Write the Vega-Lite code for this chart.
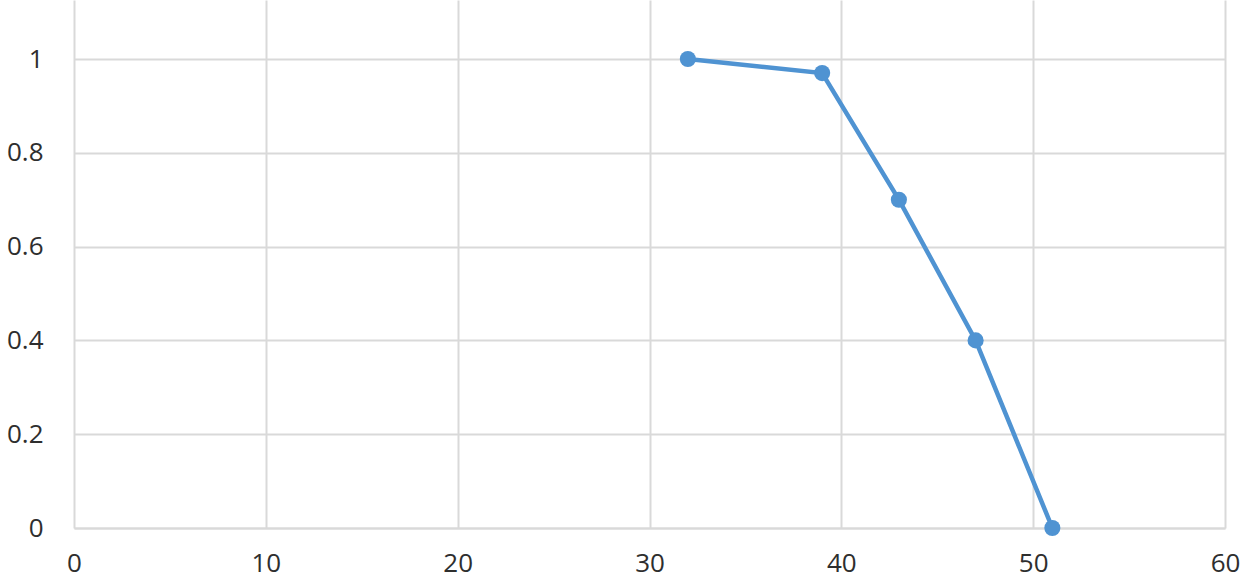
{
  "$schema": "https://vega.github.io/schema/vega-lite/v6.json",
  "width": 1151,
  "height": 528,
  "autosize": {"type": "none"},
  "padding": {"left": 74, "top": 0, "right": 20, "bottom": 57},
  "background": "white",
  "config": {"view": {"stroke": null}},
  "data": {"values": [
    {"x": 32, "y": 1.0},
    {"x": 39, "y": 0.97},
    {"x": 43, "y": 0.7},
    {"x": 47, "y": 0.4},
    {"x": 51, "y": 0.0}
  ]},
  "mark": {"type": "line", "color": "#4f93d2", "strokeWidth": 4.5, "point": {"filled": true, "size": 260, "color": "#4f93d2", "opacity": 1}},
  "encoding": {
    "x": {"field": "x", "type": "quantitative",
      "scale": {"domain": [0, 60], "nice": false, "zero": false},
      "axis": {"title": null, "values": [0, 10, 20, 30, 40, 50, 60], "format": "d",
        "grid": true, "gridColor": "#d9d9d9", "gridWidth": 2,
        "domain": true, "domainColor": "#d9d9d9", "domainWidth": 2,
        "ticks": false, "tickSize": 0, "labelPadding": 22,
        "labelFont": "Open Sans", "labelFontSize": 26, "labelColor": "#2e2e2e",
        "labelFlush": false, "labelOverlap": false}},
    "y": {"field": "y", "type": "quantitative",
      "scale": {"domain": [0, 1.1258], "nice": false, "zero": false},
      "axis": {"title": null, "values": [0, 0.2, 0.4, 0.6, 0.8, 1], "format": "~g",
        "grid": true, "gridColor": "#d9d9d9", "gridWidth": 2,
        "domain": false,
        "ticks": false, "tickSize": 0, "labelPadding": 31,
        "labelFont": "Open Sans", "labelFontSize": 26, "labelColor": "#2e2e2e",
        "labelFlush": false, "labelOverlap": false}}
  }
}
